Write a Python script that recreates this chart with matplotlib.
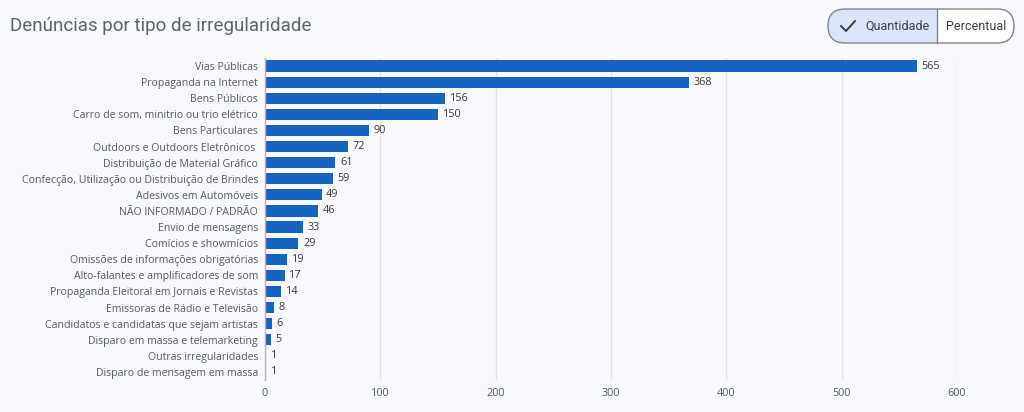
import matplotlib
matplotlib.use("Agg")
import matplotlib.pyplot as plt
from matplotlib.patches import FancyBboxPatch, Rectangle
from matplotlib.lines import Line2D

categories = [
    "Vias Públicas",
    "Propaganda na Internet",
    "Bens Públicos",
    "Carro de som, minitrio ou trio elétrico",
    "Bens Particulares",
    "Outdoors e Outdoors Eletrônicos ",
    "Distribuição de Material Gráfico",
    "Confecção, Utilização ou Distribuição de Brindes",
    "Adesivos em Automóveis",
    "NÃO INFORMADO / PADRÃO",
    "Envio de mensagens",
    "Comícios e showmícios",
    "Omissões de informações obrigatórias",
    "Alto-falantes e amplificadores de som",
    "Propaganda Eleitoral em Jornais e Revistas",
    "Emissoras de Rádio e Televisão",
    "Candidatos e candidatas que sejam artistas",
    "Disparo em massa e telemarketing",
    "Outras irregularidades",
    "Disparo de mensagem em massa",
]
values = [565, 368, 156, 150, 90, 72, 61, 59, 49, 46, 33, 29, 19, 17, 14, 8, 6, 5, 1, 1]
xticks = [0, 100, 200, 300, 400, 500, 600]

BG = "#f8f9fd"
BAR = "#1565c0"
TXT = "#555a60"

plt.rcParams['font.family'] = ['Open Sans', 'DejaVu Sans']

W, H = 1024, 412
fig = plt.figure(figsize=(W / 100, H / 100), dpi=100, facecolor=BG)
ax = fig.add_axes([265 / W, 1 - 380 / H, (957 - 265) / W, (380 - 58) / H])
ax.set_facecolor(BG)

y = list(range(len(categories)))
ax.barh(y, values, height=0.7, color=BAR, zorder=3)
for yi, v in zip(y, values):
    ax.text(v + 4, yi, str(v), va="center", ha="left", fontsize=7.8, color="#3a3a3a")

ax.set_ylim(len(categories) - 0.5, -0.5)
ax.set_xlim(0, 600)
ax.set_yticks(y)
ax.set_yticklabels(categories, fontsize=7.6, color=TXT)
ax.set_xticks(xticks)
ax.set_xticklabels([str(t) for t in xticks], fontsize=7.8, color=TXT)
ax.tick_params(axis="both", length=0, pad=5)
ax.tick_params(axis="x", pad=6)
ax.grid(axis="x", color="#e2e3e8", linewidth=1, zorder=0)
for s in ["top", "right", "bottom"]:
    ax.spines[s].set_visible(False)
ax.spines["left"].set_color("#b0b5bb")
ax.spines["left"].set_linewidth(1)
ax.spines["left"].set_zorder(4)

fig.text(10 / W, 1 - 26 / H, "Denúncias por tipo de irregularidade", fontsize=13.5,
         color="#5f6368", va="center", ha="left", family=["Roboto", "DejaVu Sans"])

# toggle button
x0, x1, y0, y1 = 828, 1014, 9, 43
r = (y1 - y0) / 2
EDGE = "#80868e"
box = FancyBboxPatch((x0, H - y1), x1 - x0, y1 - y0,
                     boxstyle=f"round,pad=0,rounding_size={r}",
                     transform=None, facecolor="white", edgecolor="none",
                     linewidth=1, zorder=1)
fig.patches.append(box)
left = Rectangle((x0, H - y1), 937 - x0, y1 - y0, transform=None,
                 facecolor="#dce5f7", edgecolor="none", zorder=2)
fig.patches.append(left)
left.set_clip_path(box)
border = FancyBboxPatch((x0, H - y1), x1 - x0, y1 - y0,
                        boxstyle=f"round,pad=0,rounding_size={r}",
                        transform=None, facecolor="none", edgecolor=EDGE,
                        linewidth=1, zorder=3)
fig.patches.append(border)
fig.lines.append(Line2D([937, 937], [H - y1, H - y0], transform=None,
                        color=EDGE, linewidth=1, zorder=3))
fig.lines.append(Line2D([841, 846, 855], [H - 26, H - 31, H - 21], transform=None,
                        color="#3c4043", linewidth=1.4, zorder=4))
fig.text(865 / W, 1 - 26 / H, "Quantidade", fontsize=9, color="#3c4043",
         va="center", ha="left", family=["Roboto", "DejaVu Sans"])
fig.text(976 / W, 1 - 26 / H, "Percentual", fontsize=9, color="#3c4043",
         va="center", ha="center", family=["Roboto", "DejaVu Sans"])

fig.savefig("out.png", dpi=100, facecolor=BG)
